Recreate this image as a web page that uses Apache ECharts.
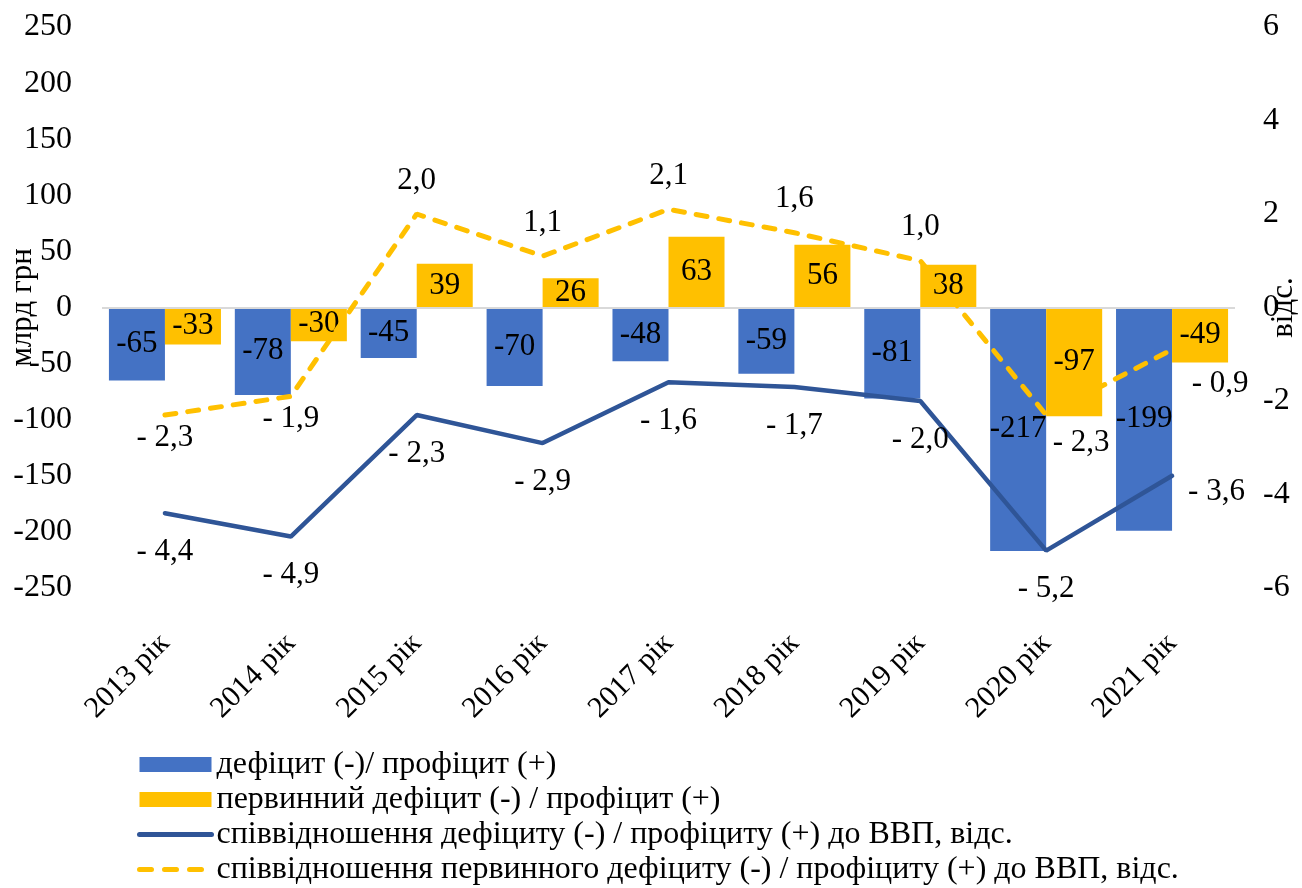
<!DOCTYPE html>
<html>
<head>
<meta charset="utf-8">
<script src="https://cdn.jsdelivr.net/npm/echarts@6/dist/echarts.min.js"></script>
<style>
  html, body { margin: 0; padding: 0; background: #fff; }
  #chart { width: 1302px; height: 888px; }
</style>
</head>
<body>
<div id="chart"></div>
<script>
const years = ['2013 рік', '2014 рік', '2015 рік', '2016 рік', '2017 рік', '2018 рік', '2019 рік', '2020 рік', '2021 рік'];
const deficit = [-65, -78, -45, -70, -48, -59, -81, -217, -199];
const primaryDeficit = [-33, -30, 39, 26, 63, 56, 38, -97, -49];
const deficitGdp = [-4.4, -4.9, -2.3, -2.9, -1.6, -1.7, -2.0, -5.2, -3.6];
const primaryGdp = [-2.3, -1.9, 2.0, 1.1, 2.1, 1.6, 1.0, -2.3, -0.9];
const leftTicks = { min: -250, max: 250, step: 50 };
const rightTicks = { min: -6, max: 6, step: 2 };

const names = [
  'дефіцит (-)/ профіцит (+)',
  'первинний дефіцит (-) / профіцит (+)',
  'співвідношення дефіциту (-) / профіциту (+) до ВВП, відс.',
  'співвідношення первинного дефіциту (-) / профіциту (+) до ВВП, відс.'
];

const FONT = '"Liberation Serif", "Times New Roman", serif';
const BLUE = '#4472C4', GOLD = '#FFC000', NAVY = '#2F5597';

// "- 2,3" style for percentages
function pct(v) {
  const s = Math.abs(v).toFixed(1).replace('.', ',');
  return v < 0 ? '- ' + s : s;
}

// label placement for the two lines (layout only)
const navyLabelPos = deficitGdp.map((v, i) =>
  i === deficitGdp.length - 1
    ? { position: 'right', distance: 15, offset: [0, 16] }
    : { position: 'bottom', distance: 22 });
const goldLabelPos = primaryGdp.map((v, i) => {
  if (i === 7) return { position: 'bottom', distance: 11, offset: [35, 0] };
  if (i === 8) return { position: 'bottom', distance: 18, offset: [48, 0] };
  return v < 0 ? { position: 'bottom', distance: 6 } : { position: 'top', distance: 17 };
});

const chart = echarts.init(document.getElementById('chart'));

const option = {
  backgroundColor: '#fff',
  animation: false,
  textStyle: { fontFamily: FONT, color: '#000' },
  grid: { left: 102, right: 67, top: 27, bottom: 300, containLabel: false, outerBoundsMode: 'none' },
  legend: {
    orient: 'vertical',
    left: 137,
    top: 747,
    padding: 0,
    itemWidth: 72,
    itemHeight: 15,
    itemGap: 0,
    textStyle: { fontFamily: FONT, fontSize: 32, color: '#000', lineHeight: 35 },
    data: [
      { name: names[0], icon: 'rect' },
      { name: names[1], icon: 'rect' },
      { name: names[2], lineStyle: { width: 5, cap: 'round' } },
      { name: names[3], lineStyle: { width: 5, cap: 'round', type: [12, 13] } }
    ]
  },
  xAxis: {
    type: 'category',
    data: years,
    axisLine: { show: false, onZero: false },
    axisTick: { show: false },
    splitLine: { show: false },
    axisLabel: {
      rotate: 45,
      margin: 51,
      interval: 0,
      color: '#000',
      fontFamily: FONT,
      fontSize: 30
    }
  },
  yAxis: [
    {
      type: 'value',
      min: leftTicks.min,
      max: leftTicks.max,
      interval: leftTicks.step,
      name: 'млрд грн',
      nameLocation: 'middle',
      nameRotate: 90,
      nameGap: 64,
      nameMoveOverlap: false,
      nameTextStyle: { fontFamily: FONT, fontSize: 31, color: '#000' },
      axisLine: { show: false },
      axisTick: { show: false },
      splitLine: { show: false },
      axisLabel: {
        margin: 30,
        color: '#000',
        fontFamily: FONT,
        fontSize: 32
      }
    },
    {
      type: 'value',
      min: rightTicks.min,
      max: rightTicks.max,
      interval: rightTicks.step,
      name: 'відс.',
      nameLocation: 'middle',
      nameRotate: 90,
      nameGap: 33,
      nameMoveOverlap: false,
      nameTextStyle: { fontFamily: FONT, fontSize: 31, color: '#000' },
      axisLine: { show: false },
      axisTick: { show: false },
      splitLine: { show: false },
      axisLabel: {
        margin: 28,
        color: '#000',
        fontFamily: FONT,
        fontSize: 32
      }
    }
  ],
  series: [
    {
      name: names[0],
      type: 'bar',
      yAxisIndex: 0,
      data: deficit,
      barGap: '0%',
      barCategoryGap: '11%',
      itemStyle: { color: BLUE },
      label: {
        show: true,
        position: 'inside',
        color: '#000',
        fontFamily: FONT,
        fontSize: 31
      },
      markLine: {
        silent: true,
        symbol: 'none',
        label: { show: false },
        lineStyle: { color: '#D9D9D9', width: 2, type: 'solid' },
        data: [{ yAxis: 0 }]
      }
    },
    {
      name: names[1],
      type: 'bar',
      yAxisIndex: 0,
      data: primaryDeficit,
      itemStyle: { color: GOLD },
      label: {
        show: true,
        position: 'inside',
        color: '#000',
        fontFamily: FONT,
        fontSize: 31
      }
    },
    {
      name: names[2],
      type: 'line',
      yAxisIndex: 1,
      symbol: 'circle',
      symbolSize: 2,
      showSymbol: true,
      z: 5,
      lineStyle: { color: NAVY, width: 4.5, cap: 'round' },
      itemStyle: { color: 'rgba(0,0,0,0)' },
      data: deficitGdp.map((v, i) => ({ value: v, label: navyLabelPos[i] })),
      label: {
        show: true,
        color: '#000',
        fontFamily: FONT,
        fontSize: 31,
        formatter: (p) => pct(p.value)
      }
    },
    {
      name: names[3],
      type: 'line',
      yAxisIndex: 1,
      symbol: 'circle',
      symbolSize: 2,
      showSymbol: true,
      z: 5,
      lineStyle: { color: GOLD, width: 5, type: [11, 12], cap: 'round' },
      itemStyle: { color: 'rgba(0,0,0,0)' },
      data: primaryGdp.map((v, i) => ({ value: v, label: goldLabelPos[i] })),
      label: {
        show: true,
        color: '#000',
        fontFamily: FONT,
        fontSize: 31,
        formatter: (p) => pct(p.value)
      }
    }
  ]
};

chart.setOption(option);
window.addEventListener('resize', () => chart.resize());
</script>
</body>
</html>
